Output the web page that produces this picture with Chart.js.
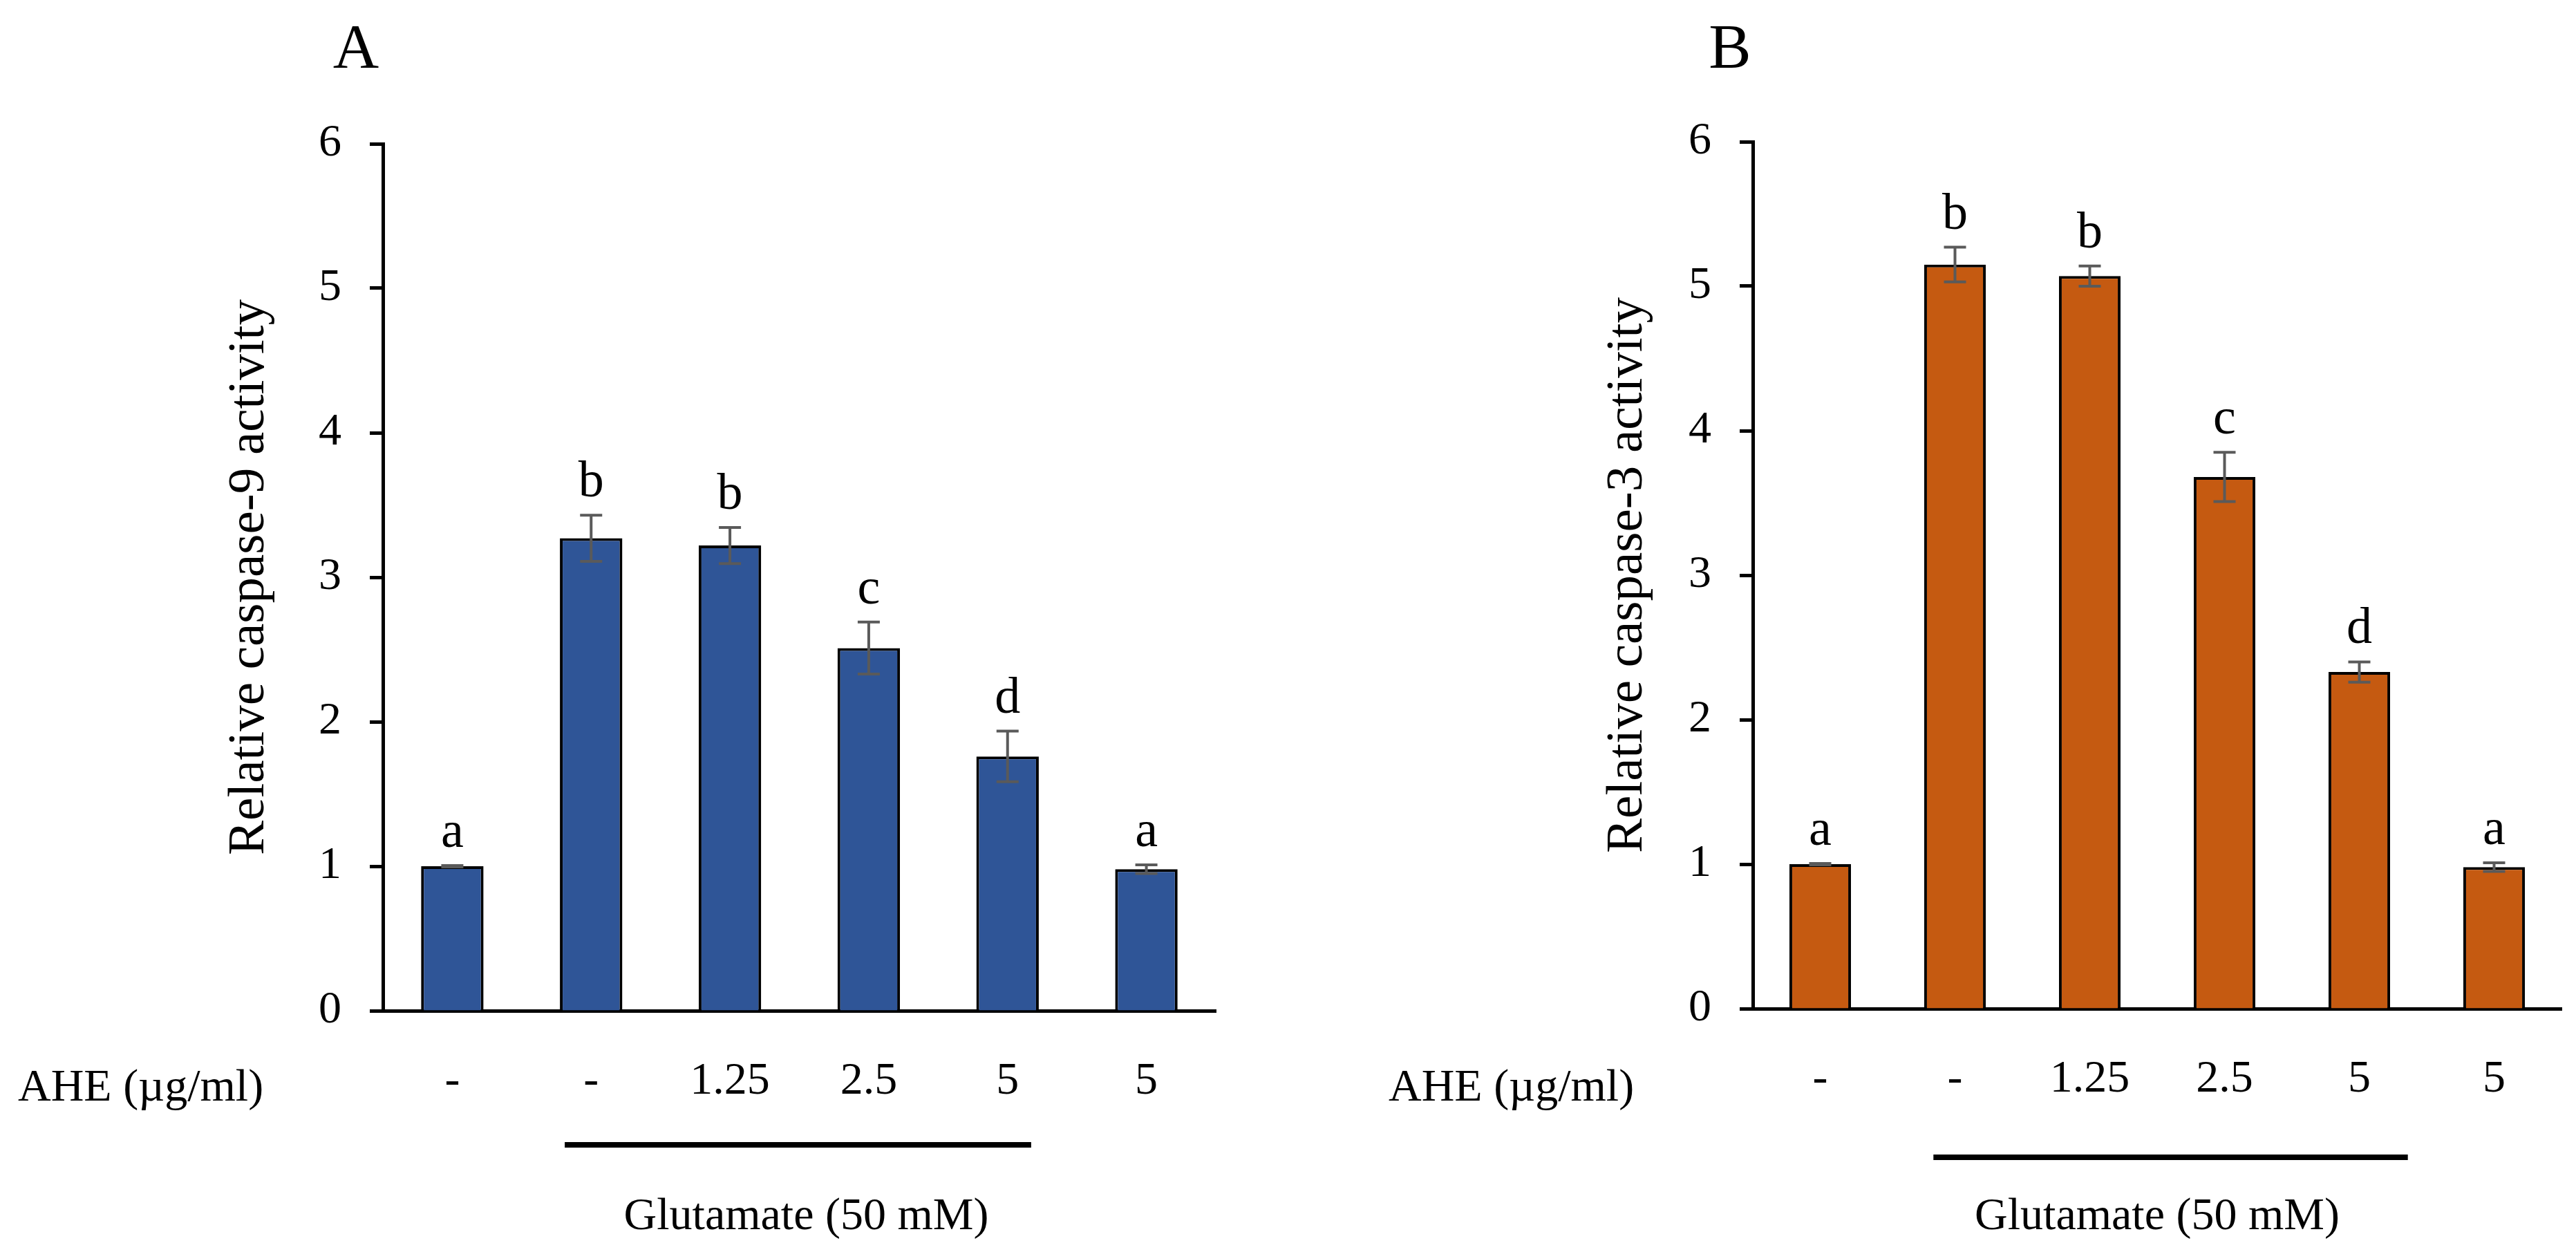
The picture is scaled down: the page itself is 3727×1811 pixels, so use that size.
<!DOCTYPE html>
<html><head><meta charset="utf-8">
<script src="https://cdn.jsdelivr.net/npm/chart.js@4.4.1/dist/chart.umd.min.js"></script>
<style>
html,body{margin:0;padding:0;background:#fff;width:3727px;height:1811px;overflow:hidden}
canvas{position:absolute;top:0}
</style></head>
<body>
<canvas id="cA" width="1860" height="1811" style="left:0;width:1860px;height:1811px"></canvas>
<canvas id="cB" width="1867" height="1811" style="left:1860px;width:1867px;height:1811px"></canvas>
<script>
// ---- data ----
const categories = ['-', '-', '1.25', '2.5', '5', '5'];
const caspase9 = [1.00, 3.27, 3.22, 2.51, 1.76, 0.98];
const caspase9Err = [0.005, 0.16, 0.125, 0.18, 0.175, 0.03];
const caspase9Letters = ['a', 'b', 'b', 'c', 'd', 'a'];
const caspase3 = [1.00, 5.15, 5.07, 3.68, 2.33, 0.98];
const caspase3Err = [0.005, 0.12, 0.07, 0.17, 0.07, 0.03];
const caspase3Letters = ['a', 'b', 'b', 'c', 'd', 'a'];
const yMin = 0, yMax = 6, yStep = 1;
const xAxisLabel = 'AHE (\u00b5g/ml)';
const groupLabel = 'Glutamate (50 mM)';

const FONT = '"Liberation Serif", "Times New Roman", serif';

const annot = {
  id: 'annot',
  afterDatasetsDraw(chart, args, o) {
    const ctx = chart.ctx, xs = chart.scales.x, ys = chart.scales.y;
    const data = chart.data.datasets[0].data;
    ctx.save();
    ctx.strokeStyle = '#5a5a5a';
    ctx.lineWidth = 4;
    data.forEach((v, i) => {
      const e = o.errors[i];
      const cx = xs.getPixelForValue(i);
      const yt = ys.getPixelForValue(v + e), yb = ys.getPixelForValue(v - e);
      ctx.beginPath();
      ctx.moveTo(cx, yt); ctx.lineTo(cx, yb);
      ctx.moveTo(cx - 16, yt); ctx.lineTo(cx + 16, yt);
      ctx.moveTo(cx - 16, yb); ctx.lineTo(cx + 16, yb);
      ctx.stroke();
      ctx.fillStyle = '#000';
      ctx.font = '74px ' + FONT;
      ctx.textAlign = 'center';
      ctx.textBaseline = 'alphabetic';
      ctx.fillText(o.letters[i], cx, yt - 27);
    });
    ctx.restore();
  },
  afterDraw(chart, args, o) {
    const ctx = chart.ctx, xs = chart.scales.x, ca = chart.chartArea;
    ctx.save();
    ctx.fillStyle = '#000';
    // panel letter
    ctx.font = '92px ' + FONT;
    ctx.textAlign = 'center';
    ctx.textBaseline = 'alphabetic';
    ctx.fillText(o.panel, o.panelX, 98);
    // y title
    ctx.save();
    ctx.translate(ca.left - o.yTitleOff, (ca.top + ca.bottom) / 2);
    ctx.rotate(-Math.PI / 2);
    ctx.font = '75px ' + FONT;
    ctx.fillText(o.yTitle, 0, 0);
    ctx.restore();
    // AHE label
    ctx.font = '66px ' + FONT;
    ctx.textAlign = 'left';
    ctx.fillText(xAxisLabel, o.aheX, 1592);
    // glutamate line
    const cw = xs.getPixelForValue(1) - xs.getPixelForValue(0);
    const x1 = xs.getPixelForValue(1) - o.lineL * cw;
    const x2 = xs.getPixelForValue(4) + o.lineR * cw;
    ctx.fillRect(x1, ca.bottom + o.lineDy - 4, x2 - x1, 8);
    ctx.textAlign = 'center';
    const mid = (xs.getPixelForValue(1) + xs.getPixelForValue(4)) / 2;
    ctx.fillText(groupLabel, mid + o.textDx, 1778);
    ctx.restore();
  }
};

function makeChart(id, cfg) {
  return new Chart(document.getElementById(id), {
    type: 'bar',
    data: {
      labels: categories,
      datasets: [{
        data: cfg.values,
        backgroundColor: cfg.color,
        borderColor: '#000',
        borderWidth: 4,
        borderSkipped: 'start',
        barPercentage: cfg.barPct,
        categoryPercentage: 1.0
      }]
    },
    options: {
      responsive: false,
      animation: false,
      devicePixelRatio: 1,
      layout: { padding: { left: 0, top: cfg.top, right: cfg.padRight, bottom: 0 } },
      plugins: {
        legend: { display: false },
        tooltip: { enabled: false },
        annot: cfg.annot
      },
      scales: {
        x: {
          type: 'category',
          offset: true,
          afterFit(s) { s.height = cfg.xH; },
          grid: { display: true, drawOnChartArea: false, drawTicks: false, color: '#000' },
          border: { display: true, color: '#000', width: 5 },
          ticks: { color: '#000', padding: 63, font: { family: FONT, size: 66 }, maxRotation: 0, autoSkip: false }
        },
        y: {
          min: yMin, max: yMax,
          afterFit(s) { s.width = cfg.yW; },
          grid: { display: true, drawOnChartArea: false, drawTicks: true, tickLength: 19, tickWidth: 5, color: '#000' },
          border: { display: true, color: '#000', width: 5 },
          ticks: { stepSize: yStep, color: '#000', padding: 41, font: { family: FONT, size: 66 } }
        }
      }
    },
    plugins: [annot]
  });
}

makeChart('cA', {
  values: caspase9, color: '#2F5597', barPct: 0.45,
  top: 208, padRight: 101, xH: 349, yW: 554,
  annot: { errors: caspase9Err, letters: caspase9Letters, panel: 'A', panelX: 515,
           yTitle: 'Relative caspase-9 activity', yTitleOff: 173, aheX: 26,
           lineL: 0.19, lineR: 0.17, lineDy: 194, textDx: 10 }
});
makeChart('cB', {
  values: caspase3, color: '#C55A11', barPct: 0.457,
  top: 205, padRight: 21, xH: 352, yW: 676,
  annot: { errors: caspase3Err, letters: caspase3Letters, panel: 'B', panelX: 643,
           yTitle: 'Relative caspase-3 activity', yTitleOff: 161, aheX: 149,
           lineL: 0.16, lineR: 0.36, lineDy: 215, textDx: 0 }
});
</script>
</body></html>
